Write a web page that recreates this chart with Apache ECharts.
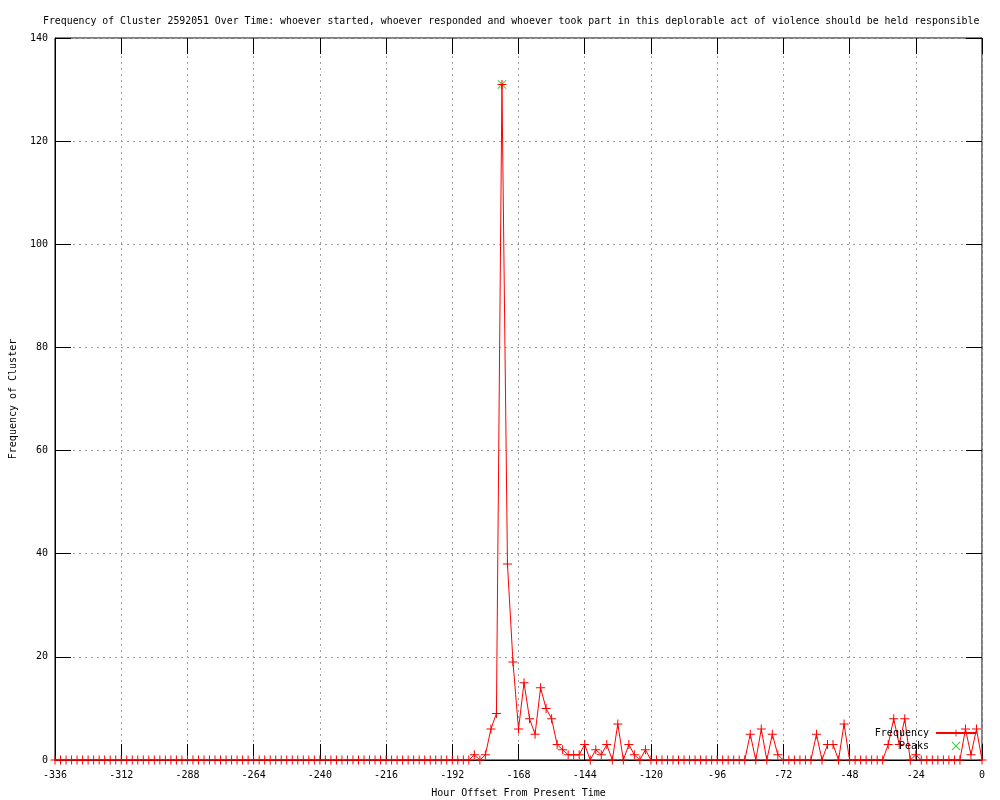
<!DOCTYPE html>
<html>
<head>
<meta charset="utf-8">
<script src="https://cdn.jsdelivr.net/npm/echarts@6/dist/echarts.min.js"></script>
<style>
html,body{margin:0;padding:0;background:#fff;}
#chart{width:1000px;height:800px;}
</style>
</head>
<body>
<div id="chart"></div>
<script>
// Sampling grid: every 2 hours from -336 to 0
const hourStart = -336;
const hourStep = 2;
// Frequency values (one per 2-hour step)
const frequency = [
  0,0,0,0,0,0,0,0,0,0,0,0,
  0,0,0,0,0,0,0,0,0,0,0,0,
  0,0,0,0,0,0,0,0,0,0,0,0,
  0,0,0,0,0,0,0,0,0,0,0,0,
  0,0,0,0,0,0,0,0,0,0,0,0,
  0,0,0,0,0,0,0,0,0,0,0,0,
  0,0,0,0,1,0,1,6,9,131,38,19,
  6,15,8,5,14,10,8,3,2,1,1,1,
  3,0,2,1,3,0,7,0,3,1,0,2,
  0,0,0,0,0,0,0,0,0,0,0,0,
  0,0,0,0,0,0,5,0,6,0,5,1,
  0,0,0,0,0,0,5,0,3,3,0,7,
  0,0,0,0,0,0,0,3,8,3,8,0,
  1,0,0,0,0,0,0,0,0,6,1,6,
  0
];
const peakHours = [-174];
const peakValues = [131];
const xTicks = {min: -336, max: 0, interval: 24};
const yTicks = {min: 0, max: 140, interval: 20};

const titleText = 'Frequency of Cluster 2592051 Over Time: whoever started, whoever responded and whoever took part in this deplorable act of violence should be held responsible';

const freqData = frequency.map((v, i) => [hourStart + i * hourStep, v]);
const peakData = peakHours.map((h, i) => [h, peakValues[i]]);

const FONT = 'DejaVu Sans Mono';
const plus = 'path://M4,0h1v4h4v1h-4v4h-1v-4h-4v-1h4z';
const cross = 'path://M0,0.7L0.7,0L4.5,3.8L8.3,0L9,0.7L5.2,4.5L9,8.3L8.3,9L4.5,5.2L0.7,9L0,8.3L3.8,4.5z';

const chart = echarts.init(document.getElementById('chart'), null, {renderer: 'canvas'});
const tickStyle = {show: true, inside: true, length: 16, lineStyle: {color: '#000', width: 1}};
chart.setOption({
  animation: false,
  backgroundColor: '#fff',
  title: {
    text: titleText,
    left: 38, top: 11,
    textStyle: {fontFamily: FONT, fontSize: 9.85, fontWeight: 'normal', color: '#000'}
  },
  legend: {
    right: 18, top: 723,
    orient: 'vertical',
    align: 'right',
    itemWidth: 40, itemHeight: 9, itemGap: 3,
    textStyle: {fontFamily: FONT, fontSize: 10, color: '#000', padding: [0, 2, 0, 0]},
    data: [{name: 'Frequency'}, {name: 'Peaks', icon: cross}]
  },
  grid: {
    left: 55, right: 18, top: 38, bottom: 40,
    outerBoundsMode: 'none', containLabel: false,
    show: true, borderColor: '#000', borderWidth: 1, backgroundColor: 'transparent'
  },
  xAxis: [{
    type: 'value', min: xTicks.min, max: xTicks.max, interval: xTicks.interval,
    name: 'Hour Offset From Present Time', nameLocation: 'middle', nameGap: 28,
    nameTextStyle: {fontFamily: FONT, fontSize: 10, color: '#000'},
    axisLine: {show: true, onZero: false, lineStyle: {color: '#000'}},
    axisTick: tickStyle,
    axisLabel: {fontFamily: FONT, fontSize: 10, color: '#000', margin: 10},
    splitLine: {show: true, lineStyle: {color: '#a0a0a0', type: [2, 4], width: 1}}
  }, {
    type: 'value', position: 'top', min: xTicks.min, max: xTicks.max, interval: xTicks.interval,
    axisLine: {show: false, onZero: false}, axisTick: tickStyle, axisLabel: {show: false}, splitLine: {show: false}
  }],
  yAxis: [{
    type: 'value', position: 'left', min: yTicks.min, max: yTicks.max, interval: yTicks.interval,
    name: 'Frequency of Cluster', nameLocation: 'middle', nameGap: 37,
    nameTextStyle: {fontFamily: FONT, fontSize: 10, color: '#000'},
    axisLine: {show: true, onZero: false, lineStyle: {color: '#000'}},
    axisTick: tickStyle,
    axisLabel: {fontFamily: FONT, fontSize: 10, color: '#000', margin: 7},
    splitLine: {show: true, lineStyle: {color: '#a0a0a0', type: [2, 4], width: 1}}
  }, {
    type: 'value', position: 'right', min: yTicks.min, max: yTicks.max, interval: yTicks.interval,
    axisLine: {show: false, onZero: false}, axisTick: tickStyle, axisLabel: {show: false}, splitLine: {show: false}
  }],
  series: [{
    name: 'Frequency', type: 'line', data: freqData,
    symbol: plus, symbolSize: 9, showAllSymbol: true,
    lineStyle: {color: '#ff0000', width: 1},
    itemStyle: {color: '#ff0000'},
    emphasis: {disabled: true}, z: 3
  }, {
    name: 'Peaks', type: 'scatter', data: peakData,
    symbol: cross, symbolSize: 9,
    itemStyle: {color: '#00c000'},
    emphasis: {disabled: true}, z: 2
  }]
});
</script>
</body>
</html>
